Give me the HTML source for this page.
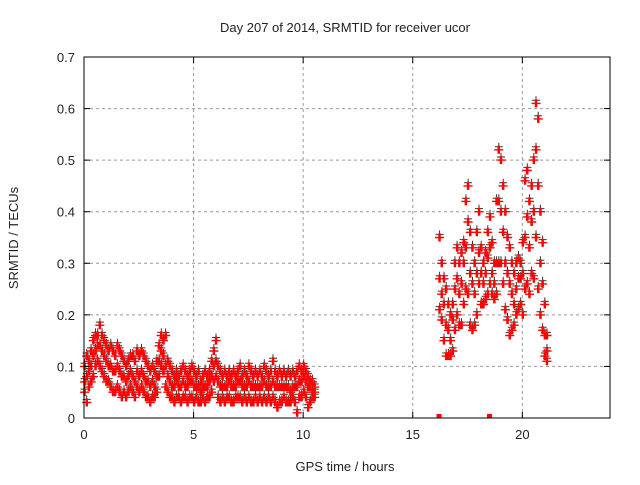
<!DOCTYPE html>
<html><head><meta charset="utf-8"><style>
body{margin:0;background:#fff;}
svg text{font-family:"Liberation Sans",sans-serif;font-size:13px;fill:#222;}
</style></head><body>
<svg id="chart" width="640" height="480" viewBox="0 0 640 480" xmlns="http://www.w3.org/2000/svg">
<rect width="640" height="480" fill="#fff"/>
<text x="345" y="32" text-anchor="middle">Day 207 of 2014, SRMTID for receiver ucor</text>
<text x="345" y="471" text-anchor="middle">GPS time / hours</text>
<text transform="translate(18,238) rotate(-90)" text-anchor="middle">SRMTID / TECUs</text>
<g id="grid"></g>
<g id="marks"></g>
<rect x="84" y="57" width="526" height="361" fill="none" stroke="#000" stroke-width="1"/>
<g id="ticks"></g>
</svg>
<script>
const xTicks=[0,5,10,15,20];
const yTicks=[0,0.1,0.2,0.3,0.4,0.5,0.6,0.7];
const yTickLabels=["0","0.1","0.2","0.3","0.4","0.5","0.6","0.7"];
const seg1Start=0, seg1Step=0.1;
const seg1Hi=[0.10,0.12,0.11,0.13,0.15,0.16,0.16,0.18,0.16,0.15,
0.14,0.13,0.14,0.13,0.12,0.14,0.13,0.12,0.11,0.10,
0.11,0.12,0.12,0.11,0.13,0.12,0.13,0.12,0.11,0.10,
0.09,0.10,0.09,0.11,0.14,0.16,0.15,0.16,0.11,0.10,
0.09,0.08,0.09,0.08,0.09,0.10,0.09,0.08,0.09,0.10,
0.09,0.08,0.09,0.07,0.08,0.09,0.08,0.09,0.11,0.13,
0.15,0.10,0.09,0.08,0.09,0.08,0.09,0.08,0.09,0.08,
0.09,0.10,0.08,0.09,0.08,0.10,0.09,0.08,0.09,0.08,
0.09,0.08,0.10,0.09,0.08,0.09,0.11,0.09,0.08,0.09,
0.08,0.09,0.08,0.09,0.08,0.09,0.08,0.09,0.10,0.09,
0.10,0.09,0.08,0.07,0.07,0.06];
const seg1Mid=[0.07,0.08,0.09,0.10,0.12,0.13,0.14,0.14,0.13,0.12,
0.11,0.10,0.10,0.09,0.09,0.10,0.09,0.08,0.08,0.07,
0.08,0.09,0.08,0.07,0.09,0.08,0.09,0.08,0.07,0.07,
0.06,0.07,0.06,0.08,0.11,0.13,0.12,0.10,0.08,0.07,
0.06,0.06,0.07,0.06,0.06,0.07,0.06,0.06,0.07,0.07,
0.06,0.06,0.06,0.05,0.06,0.06,0.06,0.07,0.08,0.10,
0.11,0.07,0.06,0.06,0.06,0.06,0.07,0.06,0.06,0.06,
0.07,0.07,0.06,0.06,0.06,0.07,0.06,0.06,0.06,0.06,
0.06,0.06,0.07,0.06,0.06,0.06,0.07,0.06,0.06,0.06,
0.06,0.06,0.06,0.06,0.05,0.06,0.06,0.06,0.07,0.07,
0.08,0.07,0.06,0.06,0.05,0.05];
const seg1Lo=[0.05,0.03,0.06,0.07,0.08,0.10,0.11,0.10,0.09,0.08,
0.07,0.07,0.06,0.05,0.05,0.06,0.05,0.04,0.05,0.04,
0.05,0.06,0.05,0.04,0.06,0.05,0.06,0.05,0.04,0.04,
0.03,0.04,0.04,0.05,0.08,0.10,0.09,0.06,0.05,0.04,
0.04,0.03,0.04,0.04,0.03,0.04,0.04,0.03,0.04,0.04,
0.03,0.04,0.03,0.03,0.04,0.03,0.04,0.04,0.05,0.07,
0.08,0.04,0.03,0.04,0.03,0.04,0.04,0.03,0.03,0.04,
0.04,0.04,0.03,0.04,0.03,0.04,0.03,0.03,0.04,0.03,
0.04,0.03,0.04,0.03,0.04,0.03,0.04,0.03,0.02,0.03,
0.03,0.04,0.03,0.03,0.03,0.04,0.03,0.01,0.04,0.04,
0.05,0.04,0.02,0.03,0.04,0.04];
const seg2Start=16.2, seg2Step=0.1;
const seg2Hi=[.35,.30,.27,.25,.22,.20,.22,.30,
.33,.30,.32,.34,.42,.45,.36,.33,.30,.36,
.40,.33,.30,.32,.36,.39,.34,.30,.42,.52,
.50,.45,.40,.35,.33,.30,.28,.30,.31,.30,
.34,.46,.48,.42,.45,.50,.61,.58,.40,.34,
.22,.16];
const seg2Mid=[.27,.24,.22,.18,.17,.15,.19,.25,
.27,.24,.26,.30,.33,.38,.28,.26,.24,.28,
.32,.28,.26,.28,.31,.33,.28,.26,.30,.42,
.40,.36,.30,.28,.26,.24,.22,.25,.27,.27,
.28,.35,.39,.33,.38,.40,.52,.45,.30,.26,
.16,.13];
const seg2Lo=[.21,.19,.15,.12,.12,.12,.13,.17,
.20,.18,.18,.22,.25,.24,.18,.17,.18,.20,
.26,.22,.22,.23,.24,.26,.24,.23,.24,.30,
.30,.26,.21,.19,.16,.17,.18,.20,.21,.22,
.20,.25,.26,.24,.28,.27,.35,.25,.20,.17,
.12,.11];
const zeroTimes=[16.2,18.5];

const X0=84,X1=610,Y0=418,Y1=57;
const xs=t=>X0+(t/24)*(X1-X0);
const ys=v=>Y0-(v/0.7)*(Y0-Y1);
const NS="http://www.w3.org/2000/svg";
const grid=document.getElementById('grid'),ticks=document.getElementById('ticks'),marks=document.getElementById('marks');
function mk(tag,attrs,parent){const e=document.createElementNS(NS,tag);for(const k in attrs)e.setAttribute(k,attrs[k]);parent.appendChild(e);return e;}
xTicks.forEach(t=>{const x=xs(t);
 if(t>0){const g=mk('line',{x1:x,x2:x,y1:Y0,y2:Y1,stroke:'#999','stroke-dasharray':'3,3'},grid);
 
 }
 mk('line',{x1:x,x2:x,y1:Y0,y2:Y0-6,stroke:'#000'},ticks);
 mk('line',{x1:x,x2:x,y1:Y1,y2:Y1+6,stroke:'#000'},ticks);
 const l=mk('text',{x:x,y:Y0+21,'text-anchor':'middle'},ticks);l.textContent=t;
 
 
});
yTicks.forEach((v,i)=>{const y=ys(v);
 if(v>0&&v<0.7){const g=mk('line',{x1:X0,x2:X1,y1:y,y2:y,stroke:'#999','stroke-dasharray':'3,3'},grid);
 
 }
 mk('line',{x1:X0,x2:X0+6,y1:y,y2:y,stroke:'#000'},ticks);
 mk('line',{x1:X1,x2:X1-6,y1:y,y2:y,stroke:'#000'},ticks);
 const l=mk('text',{x:X0-9,y:y+5,'text-anchor':'end'},ticks);l.textContent=yTickLabels[i];
 
 
});
let d='',dk='';
function plus(t,v,dark){const x=xs(t),y=ys(v);const s=`M${(x-4).toFixed(1)} ${y.toFixed(1)}h8M${x.toFixed(1)} ${(y-4).toFixed(1)}v8`;if(dark)dk+=s;else d+=s;}
function addSeries(arr,start,step){arr.forEach((v,i)=>{const t=start+i*step;plus(t,v,false);plus(t+step/2,v,false);plus(t+step/4,v+0.006,true);});}
[seg1Hi,seg1Mid,seg1Lo].forEach(a=>addSeries(a,seg1Start,seg1Step));
[seg2Hi,seg2Mid,seg2Lo].forEach(a=>addSeries(a,seg2Start,seg2Step));
const pk=mk('path',{d:dk,stroke:'#333','stroke-width':1,fill:'none'},marks);


const p=mk('path',{d:d,stroke:'#f00','stroke-width':1.4,fill:'none'},marks);


zeroTimes.forEach(t=>{const r=mk('rect',{x:xs(t)-2.5,y:Y0-4,width:5,height:4,fill:'#f00'},marks);
 
 });
</script>
</body></html>
